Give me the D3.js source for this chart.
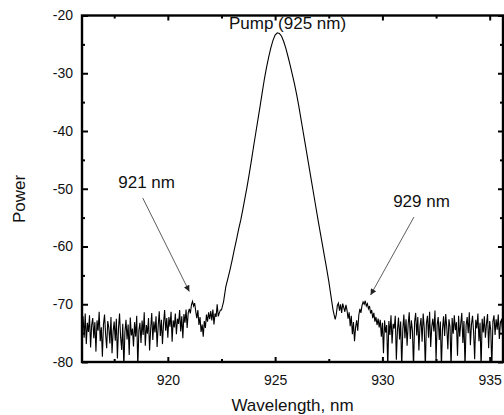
<!DOCTYPE html>
<html>
<head>
<meta charset="utf-8">
<script src="https://cdn.jsdelivr.net/npm/d3@7"></script>
<style>
  body { margin: 0; background: #fff; }
  svg { display: block; font-family: "Liberation Sans", Arial, sans-serif; }
  .axis text { font-size: 14px; fill: #111; }
  .axis line { stroke: #000; stroke-width: 2; }
  .axis path { display: none; }
</style>
</head>
<body>
<div id="chart"></div>
<script>
// spectrum, three segments sampled at a fixed step (nm), power in dB
var leftStart = 916.0, leftStep = 0.05;
var leftPower = [
  -74.5,-72.1,-75.8,-71.6,-76.9,-73.2,-74.8,-71.9,-77.5,-73.6,
  -72.4,-75.9,-73.1,-78.2,-72.8,-74.6,-71.3,-76.4,-74.0,-79.1,
  -73.5,-71.8,-75.2,-77.6,-72.9,-74.1,-76.8,-72.2,-78.5,-74.7,
  -73.0,-76.3,-72.5,-79.4,-74.2,-71.6,-75.7,-77.9,-73.4,-81.0,
  -74.8,-72.7,-76.1,-73.5,-78.8,-72.3,-75.4,-74.2,-77.3,-73.1,
  -75.6,-72.0,-81.0,-74.5,-73.2,-76.7,-72.8,-75.3,-71.4,-77.2,
  -73.6,-75.1,-72.4,-78.0,-74.3,-71.5,-76.2,-73.0,-74.9,-72.1,
  -77.4,-73.8,-71.2,-75.5,-72.7,-76.9,-73.3,-71.0,-74.6,-72.4,
  -75.8,-72.2,-73.9,-71.3,-76.5,-72.8,-74.0,-71.6,-75.2,-72.5,
  -73.4,-71.0,-74.7,-72.1,-75.9,-71.7,-73.2,-70.9,-74.1,-71.5,
  -70.8,-71.6,-70.1,-69.5,-70.3,-69.8,-71.2,-72.4,-71.0,-73.6,
  -72.2,-74.8,-73.5,-75.6,-72.9,-74.1,-71.8,-73.0,-71.4,-72.6,
  -71.2,-72.8,-70.9,-73.5,-71.6,-72.2,-70.0,-72.1,-71.5,-71.0
];

var peakStart = 922.5, peakStep = 0.1;
var peakPower = [
  -71.0,-69.5,-67.0,-65.5,-64.0,-62.3,-60.5,-58.8,-57.0,-55.4,
  -53.5,-51.5,-49.5,-47.3,-45.0,-42.6,-40.3,-38.0,-35.7,-33.3,
  -31.0,-29.0,-27.2,-25.6,-24.3,-23.4,-23.0,-23.1,-23.6,-24.5,
  -25.7,-27.1,-28.6,-30.2,-31.8,-33.6,-35.6,-37.8,-40.0,-42.2,
  -44.4,-46.6,-48.8,-51.0,-53.2,-55.4,-57.5,-59.6,-61.7,-63.8,
  -66.0,-68.5,-71.0,-72.6
];

var rightStart = 927.85, rightStep = 0.05;
var rightPower = [
  -71.8,-70.2,-69.8,-71.1,-70.0,-71.5,-69.9,-70.6,-71.3,-70.1,
  -71.0,-72.5,-71.4,-73.8,-72.0,-75.2,-73.1,-76.4,-74.0,-72.8,
  -74.6,-71.9,-70.8,-71.5,-70.2,-69.6,-70.0,-69.4,-70.3,-69.9,
  -70.8,-70.3,-71.6,-71.0,-72.4,-71.5,-73.0,-72.2,-73.6,-72.5,
  -74.0,-72.7,-75.6,-73.2,-78.5,-72.8,-74.9,-73.6,-81.0,-72.9,
  -75.3,-71.9,-76.8,-73.4,-74.2,-72.0,-79.6,-74.5,-72.3,-76.1,
  -73.0,-81.0,-74.4,-71.8,-75.9,-72.6,-77.2,-73.5,-71.4,-76.0,
  -72.8,-74.6,-81.0,-73.1,-71.5,-75.4,-72.2,-78.0,-73.8,-72.4,
  -76.5,-71.6,-74.1,-81.0,-73.3,-72.0,-75.8,-71.3,-77.4,-73.9,
  -72.5,-74.7,-71.1,-79.8,-73.6,-72.2,-76.2,-73.0,-81.0,-74.3,
  -72.1,-75.5,-71.7,-74.0,-77.8,-72.6,-73.9,-81.0,-72.4,-75.1,
  -71.9,-74.5,-73.1,-78.9,-72.0,-75.6,-73.4,-71.5,-76.7,-72.9,
  -81.0,-73.7,-72.2,-75.0,-71.4,-77.1,-73.5,-72.0,-74.8,-79.5,
  -72.7,-74.2,-71.6,-76.4,-73.2,-81.0,-72.5,-74.9,-72.1,-75.8,
  -73.4,-71.7,-77.6,-72.9,-74.5,-81.0,-73.0,-71.9,-75.3,-72.6,
  -74.4,-71.8,-76.0,-73.1,-72.7,-74.8
];

var xMajorTicks = [920, 925, 930, 935];
var xMinorTicks = [917.5, 922.5, 927.5, 932.5];
var yMajorTicks = [-80, -70, -60, -50, -40, -30, -20];
var yMinorTicks = [-75, -65, -55, -45, -35, -25];

var labels = [
  {text: "Pump (925 nm)", wl: 922.85, p: -22.35},
  {text: "921 nm", wl: 917.69, p: -49.9},
  {text: "929 nm", wl: 930.5, p: -53.1}
];
var arrows = [
  {from: [918.83, -51.6], to: [921.0, -67.8]},
  {from: [931.47, -54.9], to: [929.45, -68.4]}
];

function segment(start, step, values) {
  return values.map(function(p, i) { return {wl: start + i * step, p: p}; });
}

// plain hyphen minus like the original plot
function tick_label(d) { return String(d); }

var data = segment(leftStart, leftStep, leftPower)
  .concat(segment(peakStart, peakStep, peakPower))
  .concat(segment(rightStart, rightStep, rightPower));

var W = 504, H = 415;
var margin = {top: 15.5, right: 1, bottom: 53, left: 82},
    width = W - margin.left - margin.right,
    height = H - margin.top - margin.bottom;

var x = d3.scaleLinear().domain([916, 935.62]).range([0, width]);
var y = d3.scaleLinear().domain([-80, -20]).range([height, 0]);

var svg = d3.select("#chart").append("svg")
    .attr("width", W)
    .attr("height", H)
  .append("g")
    .attr("transform", "translate(" + margin.left + "," + margin.top + ")");

svg.append("defs").append("clipPath")
    .attr("id", "plot-clip")
  .append("rect")
    .attr("width", width)
    .attr("height", height);

svg.append("defs").append("marker")
    .attr("id", "head")
    .attr("viewBox", "0 0 10 10")
    .attr("refX", 10)
    .attr("refY", 5)
    .attr("markerUnits", "userSpaceOnUse")
    .attr("markerWidth", 8)
    .attr("markerHeight", 6)
    .attr("orient", "auto")
  .append("path")
    .attr("d", "M0,0L10,5L0,10z")
    .attr("fill", "#222");

// spectrum
svg.append("path")
    .datum(data)
    .attr("clip-path", "url(#plot-clip)")
    .attr("fill", "none")
    .attr("stroke", "#000")
    .attr("stroke-width", 1.1)
    .attr("d", d3.line()
      .x(function(d) { return x(d.wl); })
      .y(function(d) { return y(d.p); }));

// axes, ticks pointing inwards
svg.append("g")
    .attr("class", "x axis")
    .attr("transform", "translate(0," + height + ")")
    .call(d3.axisBottom(x).tickValues(xMajorTicks).tickSize(-5).tickPadding(13).tickFormat(tick_label));
svg.append("g")
    .attr("class", "x axis")
    .attr("transform", "translate(0," + height + ")")
    .call(d3.axisBottom(x).tickValues(xMinorTicks).tickSize(-3).tickFormat(""));
svg.append("g")
    .attr("class", "x axis")
    .call(d3.axisTop(x).tickValues(xMajorTicks).tickSize(-5).tickFormat(""));
svg.append("g")
    .attr("class", "x axis")
    .call(d3.axisTop(x).tickValues(xMinorTicks).tickSize(-3).tickFormat(""));

svg.append("g")
    .attr("class", "y axis")
    .call(d3.axisLeft(y).tickValues(yMajorTicks).tickSize(-6).tickPadding(9).tickFormat(tick_label));
svg.append("g")
    .attr("class", "y axis")
    .call(d3.axisLeft(y).tickValues(yMinorTicks).tickSize(-3).tickFormat(""));
svg.append("g")
    .attr("class", "y axis")
    .attr("transform", "translate(" + width + ",0)")
    .call(d3.axisRight(y).tickValues(yMajorTicks).tickSize(-5).tickFormat(""));
svg.append("g")
    .attr("class", "y axis")
    .attr("transform", "translate(" + width + ",0)")
    .call(d3.axisRight(y).tickValues(yMinorTicks).tickSize(-3).tickFormat(""));

svg.append("rect")
    .attr("width", width)
    .attr("height", height)
    .attr("fill", "none")
    .attr("stroke", "#000")
    .attr("stroke-width", 2.4);

// annotations
svg.selectAll(".arrow")
    .data(arrows)
  .enter().append("line")
    .attr("class", "arrow")
    .attr("x1", function(d) { return x(d.from[0]); })
    .attr("y1", function(d) { return y(d.from[1]); })
    .attr("x2", function(d) { return x(d.to[0]); })
    .attr("y2", function(d) { return y(d.to[1]); })
    .attr("stroke", "#333")
    .attr("stroke-width", 0.8)
    .attr("marker-end", "url(#head)");

svg.selectAll(".label")
    .data(labels)
  .enter().append("text")
    .attr("class", "label")
    .attr("x", function(d) { return x(d.wl); })
    .attr("y", function(d) { return y(d.p); })
    .style("font-size", "17px")
    .style("fill", "#111")
    .text(function(d) { return d.text; });

svg.append("text")
    .attr("x", width / 2)
    .attr("y", height + 49)
    .style("text-anchor", "middle")
    .style("font-size", "17px")
    .style("fill", "#111")
    .text("Wavelength, nm");

svg.append("text")
    .attr("transform", "translate(" + (25 - margin.left) + "," + (199 - margin.top) + ") rotate(-90)")
    .style("text-anchor", "middle")
    .style("font-size", "17px")
    .style("fill", "#111")
    .text("Power");
</script>
</body>
</html>
